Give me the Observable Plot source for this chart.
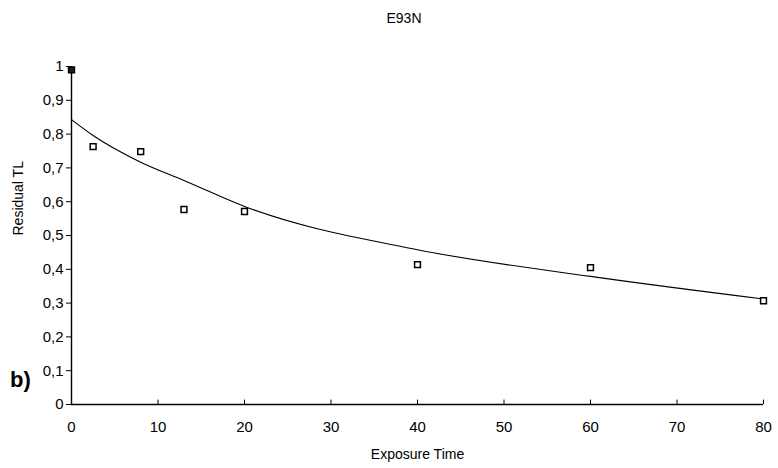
<!DOCTYPE html>
<html>
<head>
<meta charset="utf-8">
<script src="https://cdn.jsdelivr.net/npm/d3@7"></script>
<script src="https://cdn.jsdelivr.net/npm/@observablehq/plot@0.6"></script>
<style>
  body { margin: 0; background: #fff; font-family: "Liberation Sans", Arial, sans-serif; }
  #wrap { position: relative; width: 778px; height: 468px; }
  #title { height: 36px; line-height: 36px; text-align: center; font-size: 14px; color: #000; padding-left: 30px; box-sizing: border-box; }
  #tag { position: absolute; left: 10px; top: 367px; font-size: 22px; font-weight: bold; }
</style>
</head>
<body>
<div id="wrap">
  <div id="title">E93N</div>
  <div id="chart"></div>
  <div id="tag">b)</div>
</div>
<script>
const title = "E93N";
const xLabel = "Exposure Time";
const yLabel = "Residual TL";
// measured points
const exposure = [0, 2.5, 8, 13, 20, 40, 60, 80];
const residual = [0.99, 0.763, 0.748, 0.577, 0.571, 0.414, 0.405, 0.307];
// fitted curve
const fitX = [0, 2.5, 8, 13, 20, 40, 60, 80];
const fitY = [0.843, 0.796, 0.717, 0.663, 0.586, 0.458, 0.379, 0.312];
const xTicks = [0, 10, 20, 30, 40, 50, 60, 70, 80];
const yTicks = [0, 0.1, 0.2, 0.3, 0.4, 0.5, 0.6, 0.7, 0.8, 0.9, 1];

const pts = exposure.map((x, i) => ({x, y: residual[i]}));
const fit = fitX.map((x, i) => ({x, y: fitY[i]}));
const fmt = d => (d === 0 || d === 1) ? String(d) : d.toFixed(1).replace(".", ",");

const chart = Plot.plot({
  width: 778,
  height: 432,
  marginLeft: 71,
  marginRight: 15,
  marginTop: 30,
  marginBottom: 64,
  style: {fontFamily: "'Liberation Sans', Arial, sans-serif", fontSize: "14px", color: "#000", background: "#fff"},
  x: {domain: [0, 80], ticks: xTicks, tickFormat: d => String(d)},
  y: {domain: [0, 1], ticks: yTicks, tickFormat: fmt},
  marks: [
    Plot.axisX({ticks: xTicks, tickSize: 0, tickPadding: 17, fontSize: 15, label: null}),
    Plot.axisY({ticks: yTicks, tickSize: 5, tickPadding: 3, fontSize: 15, label: null, tickFormat: fmt}),
    Plot.ruleX(xTicks, {y1: 0, y2: 0.013, stroke: "#000", strokeWidth: 1}),
    Plot.ruleX([0], {stroke: "#000", strokeWidth: 1.4}),
    Plot.ruleY([0], {stroke: "#000", strokeWidth: 1.4}),
    Plot.line(fit, {x: "x", y: "y", stroke: "#000", strokeWidth: 1.1, curve: "monotone-x"}),
    Plot.dot(pts, {x: "x", y: "y", symbol: "square", r: 3.3, stroke: "#000", strokeWidth: 1.5, fill: (d, i) => i === 0 ? "#222" : "#fff"}),
    Plot.text([xLabel], {frameAnchor: "bottom", dy: 54, text: d => d, fontSize: 14}),
    Plot.text([yLabel], {frameAnchor: "left", dx: -53, rotate: -90, text: d => d, fontSize: 14})
  ]
});
document.getElementById("chart").appendChild(chart);
</script>
</body>
</html>
